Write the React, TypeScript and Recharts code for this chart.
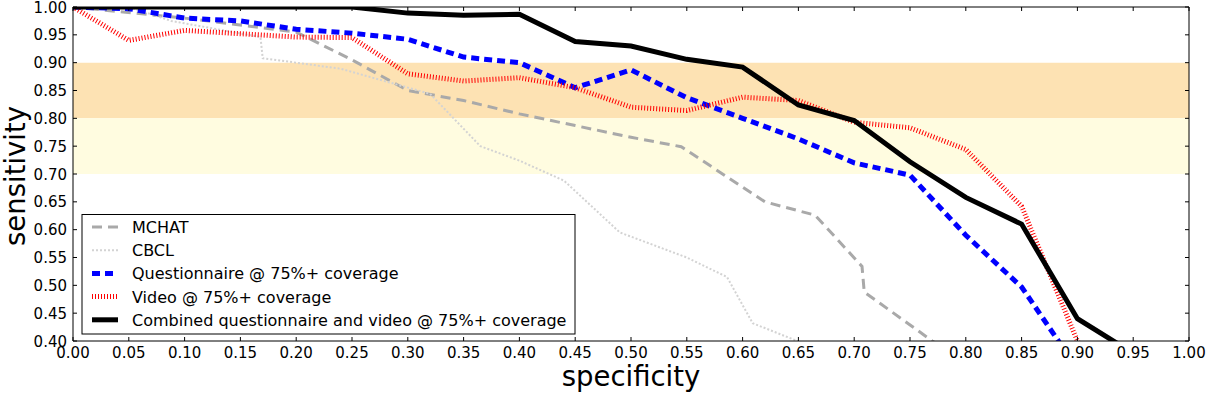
import React from 'react';
import { LineChart, Line, XAxis, YAxis, ReferenceArea, ReferenceLine } from 'recharts';

const W = 1206;
const H = 394;
const PLOT_TOP = 7;
const PLOT_BOTTOM = 341;
const PLOT_LEFT = 73;
const PLOT_RIGHT = 1189;
const FONT = '"DejaVu Sans", sans-serif';

const specTicks = [0, 0.05, 0.1, 0.15, 0.2, 0.25, 0.3, 0.35, 0.4, 0.45, 0.5, 0.55, 0.6, 0.65, 0.7, 0.75, 0.8, 0.85, 0.9, 0.95, 1.0];
const sensTicks = [0.4, 0.45, 0.5, 0.55, 0.6, 0.65, 0.7, 0.75, 0.8, 0.85, 0.9, 0.95, 1.0];

const mchatSpec = [0, 0.1, 0.2, 0.25, 0.3, 0.35, 0.4, 0.45, 0.5, 0.545, 0.62, 0.665, 0.707, 0.709, 0.77, 0.8];
const mchatSens = [1.0, 0.98, 0.955, 0.905, 0.85, 0.832, 0.808, 0.787, 0.766, 0.749, 0.65, 0.626, 0.534, 0.488, 0.4, 0.36];

const cbclSpec = [0, 0.05, 0.088, 0.168, 0.17, 0.2, 0.24, 0.32, 0.365, 0.4, 0.44, 0.49, 0.55, 0.586, 0.609, 0.649, 0.7];
const cbclSens = [1.0, 1.0, 0.975, 0.946, 0.908, 0.9, 0.889, 0.844, 0.75, 0.724, 0.688, 0.595, 0.55, 0.515, 0.432, 0.4, 0.36];

const questSpec = [0, 0.05, 0.1, 0.15, 0.2, 0.25, 0.3, 0.35, 0.4, 0.45, 0.5, 0.55, 0.6, 0.65, 0.7, 0.75, 0.8, 0.85, 0.9];
const questSens = [1.0, 0.997, 0.98, 0.975, 0.96, 0.953, 0.942, 0.91, 0.9, 0.855, 0.887, 0.837, 0.8, 0.763, 0.72, 0.698, 0.59, 0.497, 0.35];

const videoSpec = [0, 0.05, 0.1, 0.15, 0.2, 0.25, 0.3, 0.35, 0.4, 0.45, 0.5, 0.55, 0.6, 0.65, 0.7, 0.75, 0.8, 0.85, 0.9, 0.92];
const videoSens = [1.0, 0.94, 0.958, 0.952, 0.946, 0.945, 0.88, 0.867, 0.873, 0.855, 0.82, 0.814, 0.838, 0.832, 0.793, 0.783, 0.744, 0.642, 0.4, 0.33];

const combinedSpec = [0, 0.25, 0.3, 0.35, 0.4, 0.45, 0.5, 0.55, 0.6, 0.65, 0.7, 0.75, 0.8, 0.85, 0.9, 0.95];
const combinedSens = [1.0, 1.0, 0.989, 0.985, 0.987, 0.938, 0.93, 0.906, 0.892, 0.824, 0.796, 0.722, 0.658, 0.61, 0.44, 0.378];

const toPoints = (xs: number[], ys: number[]) => xs.map((x, i) => ({ spec: x, sens: ys[i] }));

const series = [
  { name: 'MCHAT', data: toPoints(mchatSpec, mchatSens), stroke: '#a9a9a9', width: 3, dash: '10 6' },
  { name: 'CBCL', data: toPoints(cbclSpec, cbclSens), stroke: '#d3d3d3', width: 2, dash: '2 2' },
  { name: 'Questionnaire @ 75%+ coverage', data: toPoints(questSpec, questSens), stroke: '#0000ff', width: 5, dash: '8 5' },
  { name: 'Video @ 75%+ coverage', data: toPoints(videoSpec, videoSens), stroke: '#ff0000', width: 5, dash: '1 2' },
  { name: 'Combined questionnaire and video @ 75%+ coverage', data: toPoints(combinedSpec, combinedSens), stroke: '#000000', width: 5, dash: undefined },
];

const XTick = (props: any) => {
  const { x, payload } = props;
  return (
    <g>
      <line x1={x} x2={x} y1={PLOT_BOTTOM} y2={PLOT_BOTTOM - 4} stroke="#000" />
      <line x1={x} x2={x} y1={PLOT_TOP} y2={PLOT_TOP + 4} stroke="#000" />
      <text x={x} y={PLOT_BOTTOM + 17} textAnchor="middle" fontSize={15} fontFamily={FONT} fill="#000">
        {Number(payload.value).toFixed(2)}
      </text>
    </g>
  );
};

const YTick = (props: any) => {
  const { y, payload } = props;
  return (
    <g>
      <line x1={PLOT_LEFT} x2={PLOT_LEFT + 4} y1={y} y2={y} stroke="#000" />
      <line x1={PLOT_RIGHT} x2={PLOT_RIGHT - 4} y1={y} y2={y} stroke="#000" />
      <text x={PLOT_LEFT - 6} y={y + 5.5} textAnchor="end" fontSize={15} fontFamily={FONT} fill="#000">
        {Number(payload.value).toFixed(2)}
      </text>
    </g>
  );
};

const App: React.FC = () => {
  const rowY = (i: number) => 227 + i * 23.2;
  return (
    <div style={{ position: 'absolute', left: 0, top: 0, width: W, height: H, background: '#fff' }}>
      <LineChart width={W} height={H} margin={{ top: PLOT_TOP, right: W - PLOT_RIGHT, bottom: 0, left: 0 }}>
        <ReferenceArea y1={0.8} y2={0.9} fill="#fde2b3" fillOpacity={1} stroke="none" />
        <ReferenceArea y1={0.7} y2={0.8} fill="#fffce0" fillOpacity={1} stroke="none" />
        <XAxis
          type="number"
          dataKey="spec"
          domain={[0, 1]}
          ticks={specTicks}
          interval={0}
          allowDataOverflow
          height={H - PLOT_BOTTOM}
          axisLine={{ stroke: '#000' }}
          tickLine={false}
          tick={(p: any) => <XTick {...p} />}
        />
        <YAxis
          type="number"
          domain={[0.4, 1]}
          ticks={sensTicks}
          interval={0}
          allowDataOverflow
          width={PLOT_LEFT}
          axisLine={{ stroke: '#000' }}
          tickLine={false}
          tick={(p: any) => <YTick {...p} />}
        />
        {series.map((s) => (
          <Line
            key={s.name}
            data={s.data}
            dataKey="sens"
            name={s.name}
            type="linear"
            stroke={s.stroke}
            strokeWidth={s.width}
            strokeDasharray={s.dash}
            dot={false}
            activeDot={false}
            isAnimationActive={false}
          />
        ))}
        <ReferenceLine y={1} stroke="#000" />
        <ReferenceLine x={1} stroke="#000" />
      </LineChart>
      <svg width={W} height={H} style={{ position: 'absolute', left: 0, top: 0, pointerEvents: 'none' }}>
        <rect x={82} y={214.5} width={493} height={119.5} fill="#fff" stroke="#000" />
        {series.map((s, i) => (
          <g key={s.name}>
            <line
              x1={92}
              x2={118}
              y1={rowY(i)}
              y2={rowY(i)}
              stroke={s.stroke}
              strokeWidth={s.width}
              strokeDasharray={s.dash}
            />
            <text x={132} y={rowY(i) + 6} fontSize={16} fontFamily={FONT} fill="#000">
              {s.name}
            </text>
          </g>
        ))}
        <text x={631} y={386} textAnchor="middle" fontSize={27.5} fontFamily={FONT} fill="#000">
          specificity
        </text>
        <text transform="translate(25,176) rotate(-90)" textAnchor="middle" fontSize={27.5} fontFamily={FONT} fill="#000">
          sensitivity
        </text>
      </svg>
    </div>
  );
};

export default App;
